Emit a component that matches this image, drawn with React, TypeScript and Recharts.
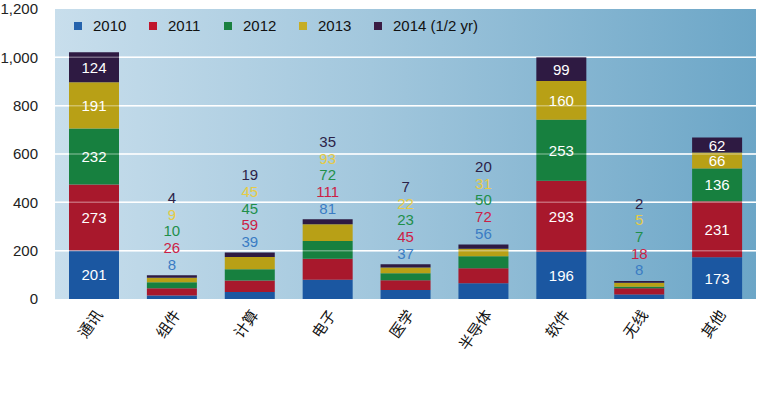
import React from 'react';
import { BarChart, Bar, XAxis, YAxis, CartesianGrid, ReferenceLine, LabelList } from 'recharts';

const categories = ['通讯', '组件', '计算', '电子', '医学', '半导体', '软件', '无线', '其他'];

// bar segment heights as drawn
const v2010 = [201, 15, 29, 80, 37, 65, 196, 19, 173];
const v2011 = [273, 30, 48, 87, 41, 62, 293, 26, 231];
const v2012 = [232, 24, 46, 73, 29, 50, 253, 6, 136];
const v2013 = [191, 19, 51, 69, 23, 31, 160, 16, 66];
const v2014 = [124, 10, 18, 21, 14, 18, 99, 8, 62];

// printed numbers
const t2010 = ['201', '8', '39', '81', '37', '56', '196', '8', '173'];
const t2011 = ['273', '26', '59', '111', '45', '72', '293', '18', '231'];
const t2012 = ['232', '10', '45', '72', '23', '50', '253', '7', '136'];
const t2013 = ['191', '9', '45', '93', '22', '31', '160', '5', '66'];
const t2014 = ['124', '4', '19', '35', '7', '20', '99', '2', '62'];

const yTicks = [0, 200, 400, 600, 800, 1000, 1200];
const insideCats = ['通讯', '软件', '其他'];

const seriesNames = ['2010', '2011', '2012', '2013', '2014 (1/2 yr)'];
const keys = ['y2010', 'y2011', 'y2012', 'y2013', 'y2014'];
const barColors = ['#1b57a1', '#a8182c', '#17803f', '#b8a016', '#2e1a42'];
const legendColors = ['#2563ad', '#c0152d', '#1a8040', '#c6ad24', '#3a1c44'];
const textColors = ['#3a7cc4', '#cc1e46', '#1f8f4a', '#e6cb45', '#2c2248'];
const texts = [t2010, t2011, t2012, t2013, t2014];

const data = categories.map((name, i) => ({
  name,
  y2010: v2010[i],
  y2011: v2011[i],
  y2012: v2012[i],
  y2013: v2013[i],
  y2014: v2014[i],
}));

const font = '"Liberation Sans", Arial, Helvetica, sans-serif';

const insideLabel = (s: number) => (props: any) => {
  const { x, y, width, height, index } = props;
  if (!insideCats.includes(categories[index])) return null;
  return (
    <text
      x={x + width / 2}
      y={y + height / 2}
      textAnchor="middle"
      dominantBaseline="central"
      fill="#fff"
      fontSize={15}
      fontFamily={font}
    >
      {texts[s][index]}
    </text>
  );
};

const aboveLabels = (props: any) => {
  const { x, y, width, index } = props;
  if (insideCats.includes(categories[index])) return null;
  return (
    <g>
      {texts.map((t, s) => (
        <text
          key={s}
          x={x + width / 2}
          y={y - 11 - s * 16.7}
          textAnchor="middle"
          dominantBaseline="central"
          fill={textColors[s]}
          fontSize={15}
          fontFamily={font}
        >
          {t[index]}
        </text>
      ))}
    </g>
  );
};

const CatTick = (props: any) => {
  const { x, y, payload } = props;
  return (
    <g transform={`translate(${x + 4},${y + 4})`}>
      <text
        transform="rotate(-55)"
        textAnchor="end"
        dominantBaseline="central"
        fill="#111"
        fontSize={15}
        fontFamily='"Noto Sans CJK SC", sans-serif'
      >
        {payload.value}
      </text>
    </g>
  );
};

export default function App() {
  return (
    <div style={{ position: 'relative', width: 758, height: 394, background: '#fff' }}>
      <style>{`body{margin:0}`}</style>
      <div
        style={{
          position: 'absolute',
          left: 55,
          top: 9,
          width: 701,
          height: 290,
          background: 'linear-gradient(to right, #c8deec 0%, #a2c7dd 45%, #6ca6c7 100%)',
        }}
      />
      <div style={{ position: 'absolute', left: 0, top: 0 }}>
        <BarChart
          width={758}
          height={394}
          data={data}
          margin={{ top: 9, right: 2, left: 0, bottom: 35 }}
          barSize={50}
        >
          <CartesianGrid vertical={false} stroke="#fff" strokeWidth={1.5} horizontalValues={[200, 400, 600, 800, 1000]} />
          <YAxis
            domain={[0, 1200]}
            ticks={yTicks}
            width={55}
            axisLine={false}
            tickLine={false}
            tickMargin={11}
            tick={{ fill: '#222', fontSize: 15, fontFamily: font }}
            tickFormatter={(v: number) => v.toLocaleString('en-US')}
            interval={0}
          />
          <XAxis
            dataKey="name"
            height={60}
            axisLine={false}
            tickLine={false}
            interval={0}
            tick={<CatTick />}
          />
          {keys.map((k, s) => (
            <Bar key={k} dataKey={k} name={seriesNames[s]} stackId="a" fill={barColors[s]} isAnimationActive={false}>
              <LabelList content={insideLabel(s)} />
              {s === 4 && <LabelList content={aboveLabels} />}
            </Bar>
          ))}
          {[200, 400, 600, 800, 1000].map((v) => (
            <ReferenceLine key={v} y={v} stroke="#fff" strokeOpacity={0.35} strokeWidth={1.5} />
          ))}
        </BarChart>
      </div>
      <div
        style={{
          position: 'absolute',
          left: 74,
          top: 17,
          display: 'flex',
          fontFamily: font,
          fontSize: 15,
          color: '#111',
        }}
      >
        {seriesNames.map((n, i) => (
          <div key={n} style={{ width: 75, display: 'flex', alignItems: 'center', whiteSpace: 'nowrap' }}>
            <span style={{ flexShrink: 0, width: 8, height: 8, background: legendColors[i], marginRight: 11 }} />
            {n}
          </div>
        ))}
      </div>
    </div>
  );
}
